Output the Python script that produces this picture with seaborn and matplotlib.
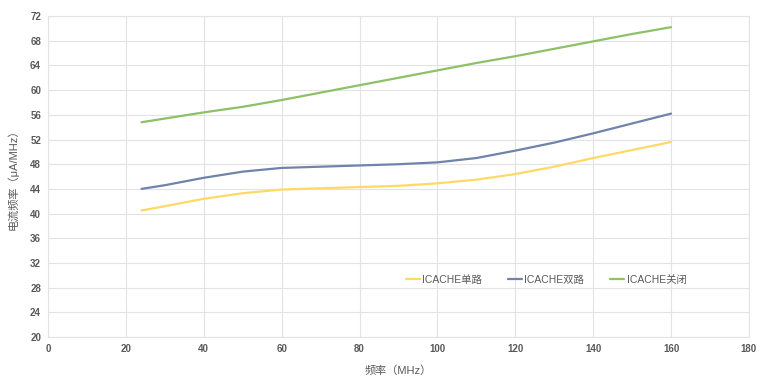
import matplotlib
matplotlib.use("Agg")
import matplotlib.pyplot as plt
import seaborn as sns
import pandas as pd

# values at 24 MHz then every 10 MHz
freq = [24, 30, 40, 50, 60, 70, 80, 90, 100, 110, 120, 130, 140, 150, 160]
single = [40.5, 41.2, 42.4, 43.3, 43.9, 44.1, 44.3, 44.5, 44.9, 45.5, 46.4, 47.6, 49.0, 50.3, 51.6]
dual = [44.0, 44.6, 45.8, 46.8, 47.4, 47.6, 47.8, 48.0, 48.3, 49.0, 50.2, 51.5, 53.0, 54.6, 56.2]
off = [54.8, 55.4, 56.4, 57.3, 58.4, 59.6, 60.8, 62.0, 63.2, 64.4, 65.5, 66.7, 67.9, 69.1, 70.2]
series_names = ["ICACHE单路", "ICACHE双路", "ICACHE关闭"]
colors = ["#FFD966", "#7083AA", "#8CC168"]

df = pd.DataFrame({
    "freq": freq * 3,
    "value": single + dual + off,
    "series": [series_names[0]] * len(freq) + [series_names[1]] * len(freq) + [series_names[2]] * len(freq),
})

sns.set_theme(style="white")
plt.rcParams["font.family"] = ["Liberation Sans", "Noto Sans CJK SC", "DejaVu Sans"]

fig = plt.figure(figsize=(7.66, 3.83), dpi=100)
ax = fig.add_axes([0.0627, 0.12, 0.915, 0.838])

sns.lineplot(data=df, x="freq", y="value", hue="series", palette=colors,
             linewidth=1.6, ax=ax)

ax.set_xlim(0, 180)
ax.set_ylim(20, 72)
ax.set_xticks(range(0, 181, 20))
ax.set_yticks(range(20, 73, 4))
ax.grid(True, color="#E3E3E3", linewidth=0.8)
for s in ax.spines.values():
    s.set_color("#E3E3E3")
    s.set_linewidth(0.8)
ax.tick_params(axis="both", length=0, labelsize=7, labelcolor="#595959", pad=5)
for lab in ax.get_xticklabels() + ax.get_yticklabels():
    lab.set_fontweight("bold")

ax.set_xlabel("频率（MHz）", fontsize=8, color="#595959", labelpad=8)
ax.set_ylabel("电流频率（μA/MHz）", fontsize=8, color="#595959", labelpad=8)

leg = ax.legend(loc="center left", bbox_to_anchor=(0.497, 0.178), ncol=3,
                frameon=False, fontsize=7.5, handlelength=1.4, handletextpad=0.2,
                columnspacing=2.45)
for t in leg.get_texts():
    t.set_color("#595959")

fig.savefig("out.png", dpi=100)
